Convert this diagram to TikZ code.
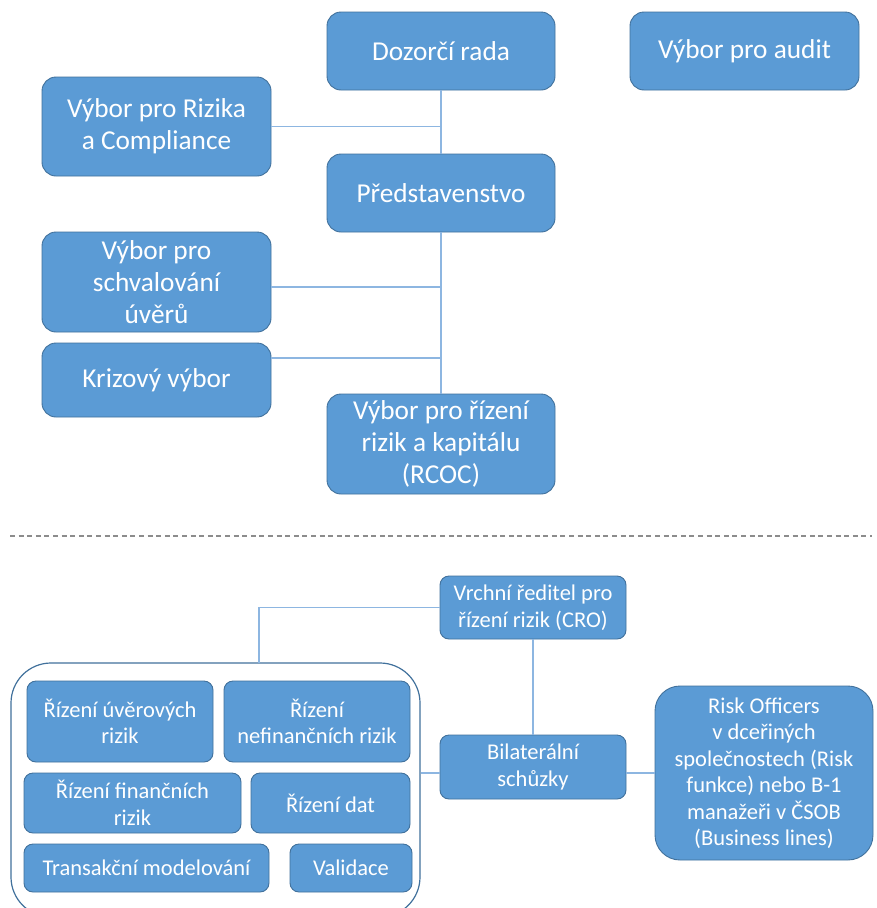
\documentclass[tikz,border=0pt]{standalone}
\usepackage{fontspec}
\setmainfont{Carlito}
\usetikzlibrary{positioning}
\definecolor{boxblue}{HTML}{5B9BD5}
\definecolor{boxline}{HTML}{41719C}
\definecolor{linkblue}{HTML}{8DB6E1}
\definecolor{cutgray}{HTML}{8C8C8C}
\tikzset{wh/.style 2 args={minimum width=#1pt, minimum height=#2pt}}
\begin{document}
\begin{tikzpicture}[x=1pt, y=-1pt,
	box/.style={draw=boxline, line width=0.9pt, fill=boxblue, text=white, rounded corners=14pt, align=center, inner sep=0pt, font=\fontsize{27.3}{31.7}\selectfont},
	sbox/.style={box, rounded corners=9pt, font=\fontsize{22.5}{26.5}\selectfont},
	link/.style={draw=linkblue, line width=1.2pt}]
	
	\fill[white] (0,0) rectangle (876,908);
	\useasboundingbox (0,0) rectangle (876,908);
	\clip (0,0) rectangle (876,908);
	
	\node[box, wh={228}{78}] (rada) at (441,51) {Dozorčí rada};
	\node[box, wh={229}{78}] (audit) at (744.5,51) {Výbor pro audit};
	\node[box, wh={229}{99}] (rac) at (156.5,126.5) {Výbor pro Rizika\\a Compliance};
	\node[box, wh={228}{78}] (pred) at (441,193) {Představenstvo};
	\node[box, wh={229}{100}] (schval) at (156.5,282) {Výbor pro\\schvalování\\úvěrů};
	\node[box, wh={229}{74}] (krize) at (156.5,380) {Krizový výbor};
	\node[box, wh={228}{100}] (rcoc) at (441,444) {Výbor pro řízení\\rizik a kapitálu\\(RCOC)};
	
	\coordinate (s1) at ([yshift=-5pt]schval.east);
	\coordinate (s2) at ([yshift=22pt]krize.east);
	\draw[link] (rada.south) -- (pred.north);
	\draw[link] (pred.south) -- (rcoc.north);
	\draw[link] (rac.east) -- (rac.east -| rada.south);
	\draw[link] (s1) -- (s1 -| pred.south);
	\draw[link] (s2) -- (s2 -| pred.south);
	
	\coordinate (cutl) at (10,536);
	\coordinate (cutr) at (872,536);
	\draw[cutgray, line width=1.3pt, dash pattern=on 5pt off 3.6pt] (cutl) -- (cutr);
	
	\node[draw=boxline, line width=1.2pt, rounded corners=40pt, wh={409}{254}] (grp) at (215.5,790) {};
	\node[sbox, wh={186}{63}] (cro) at (533,607.5) {Vrchní ředitel pro\\řízení rizik (CRO)};
	\node[sbox, wh={186}{64}] (bil) at (533,767) {Bilaterální\\schůzky};
	\node[sbox, rounded corners=25pt, wh={218}{174}] (risk) at (764,773) {Risk Officers\\v dceřiných\\společnostech (Risk\\funkce) nebo B-1\\manažeři v ČSOB\\(Business lines)};
	
	\node[sbox, wh={186}{81}] (uver) at (120,721.5) {Řízení úvěrových\\rizik};
	\node[sbox, wh={186}{81}] (nefin) at (317,721.5) {Řízení\\nefinančních rizik};
	\node[sbox, wh={217}{60}] (fin) at (132.5,803) {Řízení finančních\\rizik};
	\node[sbox, wh={159}{60}] (dat) at (330.5,803) {Řízení dat};
	\node[sbox, wh={245}{48}] (trans) at (146.5,868) {Transakční modelování};
	\node[sbox, wh={122}{48}] (valid) at (351,868) {Validace};
	
	\coordinate (tap) at (259,663);
	\draw[link] (cro.west) -| (tap);
	\draw[link] (cro.south) -- (bil.north);
	\draw[link] (risk.west) -- (risk.west -| bil.east);
	\draw[link] (bil.west |- risk.west) -- (risk.west -| grp.east);
	
\end{tikzpicture}
\end{document}
